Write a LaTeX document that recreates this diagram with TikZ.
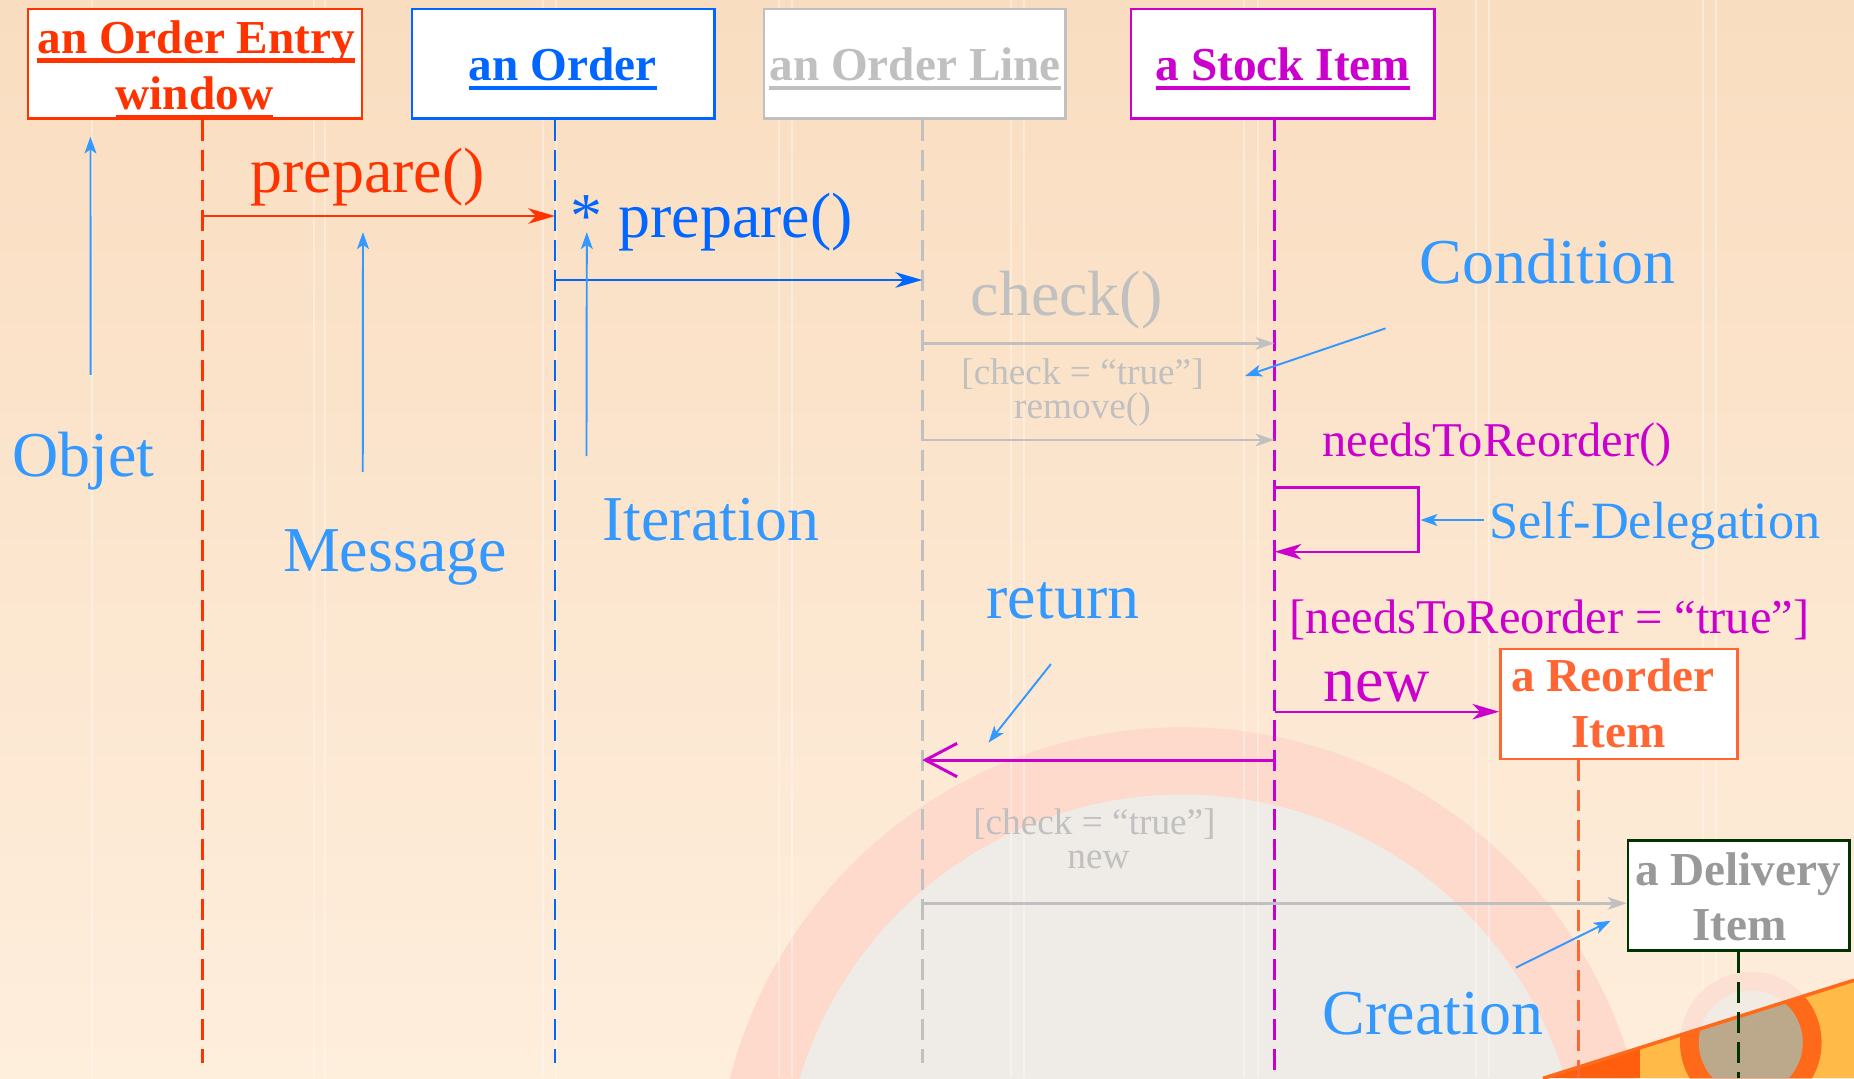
\documentclass[tikz,border=0pt]{standalone}
\usepackage{fontspec}
\setmainfont{Liberation Serif}
\usetikzlibrary{arrows.meta,fit}

\definecolor{objred}{HTML}{FF3300}
\definecolor{objblue}{HTML}{0066FF}
\definecolor{objgray}{HTML}{C0C0C0}
\definecolor{objmag}{HTML}{CC00CC}
\definecolor{objorange}{HTML}{FF6633}
\definecolor{objgreen}{HTML}{003300}
\definecolor{delgray}{HTML}{999999}
\definecolor{notecol}{HTML}{3399FF}
\definecolor{bgtop}{HTML}{F9DDC0}
\definecolor{bgbot}{HTML}{FEEEDC}
\definecolor{ringpink}{HTML}{FDDACB}
\definecolor{diskgray}{HTML}{EFEBE6}
\definecolor{bandorange}{HTML}{FF5E0E}
\definecolor{bandyellow}{HTML}{FFBA48}
\definecolor{emblemring}{HTML}{FF6A1A}
\definecolor{emblemcore}{HTML}{BCA98B}
\definecolor{emblemfaint}{HTML}{FCE0D3}
\definecolor{emblemfaintcore}{HTML}{F2EBE3}

% heavy underline used for object names
\newcommand\heavyul[1]{\setbox0=\hbox{#1}\rlap{\rule[-2.65pt]{\wd0}{1.25pt}}\box0}

\begin{document}
\begin{tikzpicture}[
  x=0.011824cm, y=-0.011824cm,
  objbox/.style={draw=#1, line width=0.75pt, fill=white, inner sep=0pt},
  titletext/.style={text=#1, font=\fontsize{13.45}{16}\selectfont\bfseries, anchor=base, inner sep=0pt},
  lifeline/.style={draw=#1, line width=0.75pt, dash pattern=on 2.1mm off 0.9mm},
  msg/.style={draw=#1, line width=0.65pt, -{Stealth[length=7.6pt,width=4.4pt,inset=2.2pt]}},
  faintmsg/.style={draw=objgray, line width=0.75pt, -{Stealth[length=5.4pt,width=3.6pt,inset=1.5pt]}},
  retmsg/.style={draw=#1, line width=0.85pt, -{Straight Barb[length=9pt,width=9.5pt]}},
  notearrow/.style={draw=notecol, line width=0.55pt, -{Stealth[length=4.8pt,width=3.4pt,inset=1.2pt]}},
  bigtext/.style={text=#1, font=\fontsize{18.2}{21}\selectfont, anchor=base, inner sep=0pt},
  midtext/.style={text=#1, font=\fontsize{13.8}{16}\selectfont, anchor=base, inner sep=0pt},
  sdtext/.style={text=#1, font=\fontsize{14.9}{17}\selectfont, anchor=base, inner sep=0pt},
  smalltext/.style={text=objgray, font=\fontsize{10.6}{12}\selectfont, anchor=base, inner sep=0pt},
]
\useasboundingbox (0,0) rectangle (1568,912);

% ---- background ----
\begin{scope}
  \clip (0,0) rectangle (1568,912);
  \fill[top color=bgtop, bottom color=bgbot] (0,0) rectangle (1568,912);
  \fill[ringpink] (1000,1010) circle[radius=4.670cm];
  \fill[diskgray] (1000,1010) circle[radius=3.997cm];
  \foreach \vx in {78,265.6,274.9,459.2,470.2,658.8,669.8,855,866,1052,1064,1248,1259,1440,1451}
    \draw[white, opacity=0.35, line width=0.6pt] (\vx,0) -- (\vx,912);
  \fill[emblemfaint] (1480.7,881.7) circle[radius=0.708cm];
  \fill[emblemfaintcore] (1480.7,881.7) circle[radius=0.520cm];
  \begin{scope}
    \clip (1305,912) -- (1568,829) -- (1568,912) -- cycle;
    \fill[bandyellow] (1300,820) rectangle (1568,912);
    \fill[bandorange] (1300,820) rectangle (1387,912);
    \fill[emblemring] (1480.7,881.7) circle[radius=0.708cm];
    \fill[emblemcore] (1480.7,881.7) circle[radius=0.520cm];
  \end{scope}
  \draw[emblemring, line width=1pt] (1305,912) -- (1568,829);
\end{scope}

% ---- objects ----
\node[objbox=objred,    fit={(23.6,7.6)(306,100)}]      (oew) {};
\node[objbox=objblue,   fit={(348.5,7.6)(604.5,100)}]   (ord) {};
\node[objbox=objgray,   fit={(646,7.6)(901,100)}]       (ol)  {};
\node[objbox=objmag,    fit={(956.5,7.6)(1213,100)}]    (si)  {};
\node[objbox=objorange, fit={(1269,548.9)(1469.4,641.9)}] (ri) {};
\node[objbox=objgreen,  fit={(1376.8,711)(1564.2,804)}]  (di) {};

\node[titletext=objred]    (oewt1) at (166,45.1)   {\heavyul{an Order Entry}};
\node[titletext=objred]    (oewt2) at (164.5,93)   {\heavyul{window}};
\node[titletext=objblue]   (ordt)  at (476,68.5)   {\heavyul{an Order}};
\node[titletext=objgray]   (olt)   at (774,68.5)   {\heavyul{an Order Line}};
\node[titletext=objmag]    (sit)   at (1085,68.5)  {\heavyul{a Stock Item}};
\node[titletext=objorange] (rit1)  at (1364,585)   {a Reorder};
\node[titletext=objorange] (rit2)  at (1369,632.6) {Item};
\node[titletext=delgray]   (dit1)  at (1470,748.5) {a Delivery};
\node[titletext=delgray]   (dit2)  at (1471,795.6) {Item};

% ---- lifelines ----
\coordinate (oewL) at (171.4,899);
\coordinate (ordL) at (469.4,899);
\coordinate (olL)  at (780,899);
\coordinate (siL)  at (1077.9,912);
\coordinate (riL)  at (1335.2,912);
\coordinate (diL)  at (1470.5,912);
\draw[lifeline=objred]    (oew.south -| oewL) -- (oewL);
\draw[lifeline=objblue]   (ord.south -| ordL) -- (ordL);
\draw[lifeline=objgray]   (ol.south -| olL)   -- (olL);
\draw[lifeline=objmag]    (si.south -| siL)   -- (siL);
\draw[lifeline=objorange] (ri.south -| riL)   -- (riL);
\draw[lifeline=objgreen]  (di.south -| diL)   -- (diL);

% ---- messages ----
\coordinate (r1) at (0,182.7);
\coordinate (r2) at (0,236.8);
\coordinate (r3) at (0,290.4);
\coordinate (r4) at (0,372.1);
\coordinate (r5) at (0,412.4);
\coordinate (r6) at (0,466.6);
\coordinate (r7) at (0,601.9);
\coordinate (r8) at (0,642.8);
\coordinate (r9) at (0,764);
\coordinate (loopR) at (1199.6,439.8);

\draw[msg=objred]  (oewL |- r1) -- (ordL |- r1);
\draw[msg=objblue] (ordL |- r2) -- (olL |- r2);
\draw[faintmsg]    (olL |- r3) -- (siL |- r3);
\draw[faintmsg]    (olL |- r4) -- (siL |- r4);
\draw[msg=objmag]  (siL |- r5) -- (loopR |- r5) -- (loopR |- r6) -- (siL |- r6);
\draw[msg=objmag]  (siL |- r7) -- (ri.west |- r7);
\draw[retmsg=objmag] (siL |- r8) -- (olL |- r8);
\draw[faintmsg]    (olL |- r9) -- (di.west |- r9);

\node[bigtext=objred]  (lprep1) at (311,163)     {prepare()};
\node[bigtext=objblue] (lprep2) at (602,200.5)   {* prepare()};
\node[bigtext=objgray] (lcheck) at (902,267)     {check()};
\node[smalltext]       (lgrd1)  at (915.5,325.6) {[check = “true”]};
\node[smalltext]       (lrem)   at (915.5,353.6) {remove()};
\node[midtext=objmag]  (lneeds) at (1266,386.2)  {needsToReorder()};
\node[midtext=objmag]  (lgrd2)  at (1310.5,535.6) {[needsToReorder = “true”]};
\node[bigtext=objmag]  (lnew1)  at (1164,593.4)  {new};
\node[smalltext]       (lgrd3)  at (925.6,706)   {[check = “true”]};
\node[smalltext]       (lnew2)  at (929,734.4)   {new};

% ---- annotations ----
\node[bigtext=notecol] (nobj)  at (70.4,402.6) {Objet};
\node[bigtext=notecol] (nmsg)  at (334,483)    {Message};
\node[bigtext=notecol] (nit)   at (601,457)    {Iteration};
\node[bigtext=notecol] (ncond) at (1309,239.6) {Condition};
\node[sdtext=notecol]  (nsd)   at (1399.7,455.3) {Self-Delegation};
\node[bigtext=notecol] (nret)  at (899,523)    {return};
\node[bigtext=notecol] (ncre)  at (1212,875.3) {Creation};

\coordinate (objTail)  at (76.7,317);   \coordinate (objTip)  at (76.5,115.6);
\coordinate (msgTail)  at (306.8,399);  \coordinate (msgTip)  at (307,196.4);
\coordinate (itTail)   at (496,385.7);  \coordinate (itTip)   at (496.3,196.4);
\coordinate (condTail) at (1171.8,277.7); \coordinate (condTip) at (1053,318);
\coordinate (retTail)  at (888.8,561.6); \coordinate (retTip)  at (836,628.1);
\coordinate (creTail)  at (1282,818.4); \coordinate (creTip)  at (1362.2,778.7);
\coordinate (sdTail)   at (1255,439.8);

\draw[notearrow] (objTail) -- (objTip);
\draw[notearrow] (msgTail) -- (msgTip);
\draw[notearrow] (itTail) -- (itTip);
\draw[notearrow] (condTail) -- (condTip);
\draw[notearrow] (retTail) -- (retTip);
\draw[notearrow] (creTail) -- (creTip);
\draw[notearrow, shorten >=0.6pt] (sdTail) -- (loopR);
\end{tikzpicture}
\end{document}
